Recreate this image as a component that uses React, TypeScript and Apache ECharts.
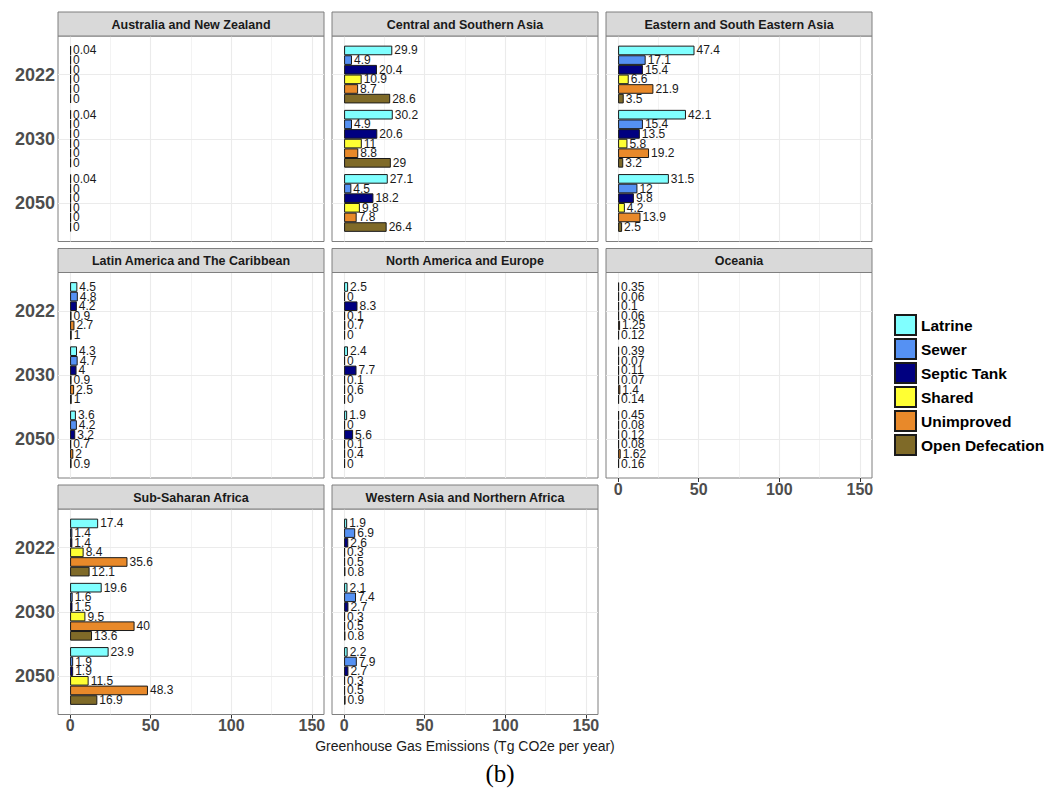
import React, { useEffect, useRef } from "react";
import * as echarts from "echarts";

const regions = [
  "Australia and New Zealand",
  "Central and Southern Asia",
  "Eastern and South Eastern Asia",
  "Latin America and The Caribbean",
  "North America and Europe",
  "Oceania",
  "Sub-Saharan Africa",
  "Western Asia and Northern Africa",
];
const years = ["2022", "2030", "2050"];
const seriesNames = ["Latrine", "Sewer", "Septic Tank", "Shared", "Unimproved", "Open Defecation"];
const seriesColors = ["#80ffff", "#5591f3", "#000080", "#ffff33", "#e8892a", "#7f6a28"];

// values: [series][year 2022, 2030, 2050]
const australiaNZ = [[0.04, 0.04, 0.04], [0, 0, 0], [0, 0, 0], [0, 0, 0], [0, 0, 0], [0, 0, 0]];
const centralSouthernAsia = [[29.9, 30.2, 27.1], [4.9, 4.9, 4.5], [20.4, 20.6, 18.2], [10.9, 11, 9.8], [8.7, 8.8, 7.8], [28.6, 29, 26.4]];
const easternSEAsia = [[47.4, 42.1, 31.5], [17.1, 15.4, 12], [15.4, 13.5, 9.8], [6.6, 5.8, 4.2], [21.9, 19.2, 13.9], [3.5, 3.2, 2.5]];
const latinAmerica = [[4.5, 4.3, 3.6], [4.8, 4.7, 4.2], [4.2, 4, 3.2], [0.9, 0.9, 0.7], [2.7, 2.5, 2], [1, 1, 0.9]];
const northAmericaEurope = [[2.5, 2.4, 1.9], [0, 0, 0], [8.3, 7.7, 5.6], [0.1, 0.1, 0.1], [0.7, 0.6, 0.4], [0, 0, 0]];
const oceania = [[0.35, 0.39, 0.45], [0.06, 0.07, 0.08], [0.1, 0.11, 0.12], [0.06, 0.07, 0.08], [1.25, 1.4, 1.62], [0.12, 0.14, 0.16]];
const subSaharanAfrica = [[17.4, 19.6, 23.9], [1.4, 1.6, 1.9], [1.4, 1.5, 1.9], [8.4, 9.5, 11.5], [35.6, 40, 48.3], [12.1, 13.6, 16.9]];
const westernAsiaNAfrica = [[1.9, 2.1, 2.2], [6.9, 7.4, 7.9], [2.6, 2.7, 2.7], [0.3, 0.3, 0.3], [0.5, 0.5, 0.5], [0.8, 0.8, 0.9]];
const regionValues = [australiaNZ, centralSouthernAsia, easternSEAsia, latinAmerica, northAmericaEurope, oceania, subSaharanAfrica, westernAsiaNAfrica];

const xTickLabels = [0, 50, 100, 150];
const xMinorStep = 25;
const xAxisTitle = "Greenhouse Gas Emissions (Tg CO2e per year)";
const figureLabel = "(b)";

// layout
const colLeft = [58, 332, 606];
const stripTop = [12, 248.5, 485];
const stripH = 24;
const panelW = 266;
const panelH = 205.5;
const xExp = 7.5;
const xMax = 150;
const FONT = "'Liberation Sans', Arial, Helvetica, sans-serif";

function buildOption() {
  const n = regions.length;
  const grid: any[] = [];
  const xAxis: any[] = [];
  const yAxis: any[] = [];
  const series: any[] = [];
  const graphic: any[] = [];
  const frameGrids: any[] = [];
  const frameX: any[] = [];
  const frameY: any[] = [];
  const barGrids: any[] = [];
  const barX: any[] = [];
  const barY: any[] = [];
  const xRange = xMax + 2 * xExp;

  regions.forEach((name, i) => {
    const col = i % 3;
    const row = Math.floor(i / 3);
    const pl = colLeft[col];
    const st = stripTop[row];
    const pt = st + stripH;
    const showX = i === 5 || i === 6 || i === 7;
    const showY = col === 0;
    const xOff = (panelW * xExp) / xRange;
    const yOff = panelH / 32;

    frameGrids.push({
      left: pl, top: pt, width: panelW, height: panelH,
      show: true, backgroundColor: "#ffffff", borderColor: "#7f7f7f", borderWidth: 1,
      containLabel: false,
    });
    frameX.push({ gridIndex: i, type: "value", min: -xExp, max: xMax + xExp, show: false });
    frameY.push({ gridIndex: i, type: "value", min: 0.4, max: 3.6, inverse: true, show: false });

    barGrids.push({
      left: pl + xOff, top: pt + yOff, width: panelW - 2 * xOff, height: panelH - 2 * yOff,
      containLabel: false,
    });
    barX.push({
      gridIndex: n + i, type: "value", min: 0, max: xMax, interval: 50,
      offset: yOff,
      axisLine: { show: false },
      axisTick: { show: showX, length: 4, lineStyle: { color: "#333333", width: 1 } },
      axisLabel: { show: showX, margin: 3, fontSize: 16, fontWeight: "bold", color: "#4d4d4d", fontFamily: FONT },
      splitLine: { show: false },
    });
    barY.push({
      gridIndex: n + i, type: "category", data: years, inverse: true,
      offset: xOff,
      axisLine: { show: false },
      axisTick: { show: showY, alignWithLabel: true, length: 4, lineStyle: { color: "#333333", width: 1 } },
      axisLabel: { show: showY, margin: 3, fontSize: 18, fontWeight: "bold", color: "#4d4d4d", fontFamily: FONT },
      splitLine: { show: false },
    });

    const lines: any[] = [];
    for (let v = 0; v <= xMax; v += xMinorStep) {
      const major = xTickLabels.indexOf(v) >= 0;
      lines.push({ xAxis: v, lineStyle: { color: "#ebebeb", width: major ? 1.1 : 0.6, type: "solid" } });
    }
    years.forEach((_, k) => {
      lines.push({ yAxis: k + 1, lineStyle: { color: "#ebebeb", width: 1.1, type: "solid" } });
    });
    series.push({
      type: "scatter", xAxisIndex: i, yAxisIndex: i, data: [], silent: true, z: 1,
      markLine: {
        silent: true, symbol: ["none", "none"], label: { show: false }, animation: false, z: 1,
        data: lines,
      },
    });

    seriesNames.forEach((sname, s) => {
      series.push({
        type: "bar", name: sname, xAxisIndex: n + i, yAxisIndex: n + i,
        data: years.map((_, k) => regionValues[i][s][k]),
        itemStyle: { color: seriesColors[s], borderColor: "#1a1a1a", borderWidth: 1 },
        barGap: "0%", barCategoryGap: "10%", barMinHeight: 1, z: 3,
        label: { show: true, position: "right", distance: 2, fontSize: 12, color: "#1a1a1a", fontFamily: FONT },
      });
    });

    graphic.push({
      type: "rect", shape: { x: pl, y: st, width: panelW, height: stripH },
      style: { fill: "#d9d9d9", stroke: "#7f7f7f", lineWidth: 1 }, z: 10,
    });
    graphic.push({
      type: "text", x: pl + panelW / 2, y: st + stripH / 2 + 0.5, z: 11,
      style: { text: name, fill: "#1a1a1a", fontSize: 12.5, fontWeight: "bold", fontFamily: FONT, align: "center", verticalAlign: "middle" },
    });
  });

  grid.push(...frameGrids, ...barGrids);
  xAxis.push(...frameX, ...barX);
  yAxis.push(...frameY, ...barY);

  graphic.push({
    type: "text", x: 465, y: 746, z: 11,
    style: { text: xAxisTitle, fill: "#1a1a1a", fontSize: 14, fontFamily: FONT, align: "center", verticalAlign: "middle" },
  });
  graphic.push({
    type: "text", x: 500, y: 773, z: 11,
    style: { text: figureLabel, fill: "#000000", fontSize: 25, fontFamily: "'Liberation Serif', 'Times New Roman', serif", align: "center", verticalAlign: "middle" },
  });

  return {
    animation: false,
    backgroundColor: "#ffffff",
    textStyle: { fontFamily: FONT },
    grid, xAxis, yAxis, series, graphic,
    legend: {
      orient: "vertical", left: 894, top: 314, padding: 0, itemWidth: 21, itemHeight: 20, itemGap: 2,
      icon: "rect", selectedMode: false, data: seriesNames,
      textStyle: { fontSize: 15.5, fontWeight: "bold", color: "#000000", fontFamily: FONT },
    },
  };
}

export default function App() {
  const ref = useRef<HTMLDivElement>(null);
  useEffect(() => {
    if (!ref.current) return;
    const chart = echarts.init(ref.current, undefined, { renderer: "svg" });
    chart.setOption(buildOption() as any);
    return () => chart.dispose();
  }, []);
  return <div ref={ref} style={{ position: "fixed", left: 0, top: 0, width: 1044, height: 789 }} />;
}
